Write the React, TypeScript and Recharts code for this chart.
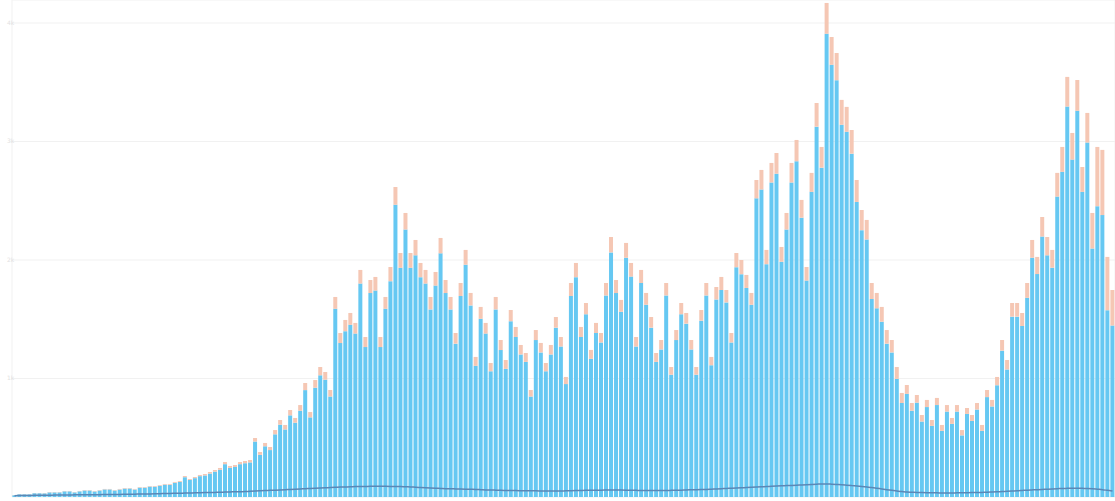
import React from "react";
import {
  ComposedChart,
  Bar,
  Line,
  XAxis,
  YAxis,
  CartesianGrid,
} from "recharts";

// daily totals (blue + salmon) left to right
const totals = [
  17, 25, 25, 25, 34, 34, 34, 42, 42, 42, 51, 51,
  42, 51, 59, 59, 51, 59, 68, 68, 59, 68, 76, 76,
  68, 84, 84, 93, 93, 101, 110, 110, 127, 135, 177, 152,
  169, 186, 194, 211, 228, 245, 295, 262, 270, 295, 304, 312,
  498, 380, 456, 422, 565, 650, 608, 734, 667, 776, 962, 717,
  987, 1097, 1055, 903, 1688, 1384, 1494, 1553, 1469, 1916, 1350, 1831,
  1857, 1350, 1688, 1941, 2616, 2059, 2397, 2059, 2169, 1975, 1916, 1688,
  1899, 2186, 1831, 1688, 1384, 1806, 2085, 1722, 1182, 1604, 1469, 1131,
  1688, 1325, 1156, 1578, 1435, 1283, 1215, 903, 1409, 1300, 1131, 1283,
  1519, 1350, 1013, 1806, 1975, 1435, 1637, 1241, 1469, 1384, 1806, 2194,
  1831, 1663, 2144, 1975, 1350, 1916, 1722, 1519, 1215, 1325, 1806, 1097,
  1409, 1637, 1553, 1325, 1097, 1578, 1806, 1182, 1772, 1857, 1747, 1384,
  2059, 2000, 1874, 1722, 2675, 2760, 2085, 2819, 2903, 2110, 2397, 2819,
  3013, 2507, 1941, 2735, 3325, 2954, 4169, 3882, 3747, 3351, 3292, 3097,
  2675, 2422, 2338, 1806, 1722, 1604, 1409, 1325, 1097, 878, 945, 793,
  861, 692, 819, 650, 836, 608, 776, 667, 776, 565, 751, 692,
  793, 608, 903, 819, 1013, 1325, 1156, 1637, 1637, 1553, 1806, 2169,
  2026, 2363, 2194, 2085, 2735, 2954, 3545, 3072, 3519, 2785, 3241, 2397,
  2954, 2929, 2026, 1747,
];

// salmon top part of each bar
const salmon = [
  2, 2, 2, 2, 2, 2, 3, 3, 3, 3, 3, 3,
  3, 3, 4, 4, 4, 4, 4, 4, 4, 5, 5, 5,
  5, 5, 5, 5, 6, 6, 6, 7, 7, 8, 10, 8,
  10, 10, 12, 13, 14, 15, 18, 16, 17, 18, 19, 20,
  30, 24, 28, 26, 36, 40, 38, 45, 40, 48, 60, 45,
  65, 70, 65, 55, 100, 85, 95, 100, 90, 115, 85, 110,
  115, 85, 100, 120, 150, 125, 140, 125, 130, 120, 115, 105,
  115, 130, 110, 105, 90, 110, 125, 105, 75, 100, 90, 70,
  105, 85, 75, 95, 85, 80, 75, 55, 85, 80, 70, 80,
  90, 80, 60, 110, 120, 85, 95, 75, 85, 80, 105, 130,
  110, 100, 125, 115, 80, 110, 100, 90, 75, 80, 105, 65,
  85, 95, 90, 80, 65, 90, 105, 70, 105, 110, 105, 80,
  120, 120, 110, 100, 155, 165, 120, 165, 175, 125, 140, 165,
  180, 150, 115, 160, 200, 175, 260, 235, 230, 210, 210, 200,
  185, 170, 165, 135, 130, 125, 115, 105, 100, 85, 75, 65,
  65, 55, 60, 50, 60, 50, 55, 50, 55, 45, 50, 50,
  55, 50, 60, 55, 70, 90, 80, 115, 115, 110, 125, 150,
  145, 165, 155, 150, 200, 210, 250, 225, 260, 210, 250, 300,
  500, 550, 450, 300,
];

// thin line along the bottom
const lineValues = [
  10, 12, 12, 13, 14, 14, 15, 15, 16, 16, 17, 17,
  18, 18, 19, 19, 20, 20, 21, 21, 22, 22, 23, 24,
  24, 25, 25, 26, 27, 28, 29, 30, 31, 32, 33, 34,
  35, 36, 37, 38, 39, 40, 42, 43, 44, 45, 46, 48,
  50, 52, 54, 56, 58, 60, 62, 64, 66, 68, 70, 72,
  74, 76, 78, 80, 82, 84, 85, 86, 88, 88, 89, 90,
  90, 91, 90, 89, 88, 88, 86, 85, 82, 80, 78, 76,
  74, 72, 70, 70, 68, 67, 66, 65, 64, 62, 60, 60,
  58, 56, 55, 54, 54, 53, 52, 52, 52, 51, 50, 50,
  50, 51, 52, 53, 54, 55, 56, 57, 58, 58, 59, 60,
  60, 59, 58, 57, 56, 55, 55, 54, 54, 54, 55, 56,
  57, 58, 60, 61, 62, 63, 64, 66, 68, 70, 72, 74,
  76, 78, 80, 82, 84, 86, 88, 90, 92, 94, 96, 98,
  100, 102, 104, 106, 108, 110, 110, 108, 106, 104, 100, 96,
  92, 88, 84, 80, 74, 68, 62, 56, 50, 46, 42, 40,
  38, 37, 36, 35, 35, 34, 34, 34, 35, 35, 36, 37,
  38, 39, 40, 42, 44, 46, 48, 50, 52, 55, 58, 60,
  62, 64, 66, 68, 70, 72, 73, 74, 74, 73, 72, 70,
  66, 62, 56, 50,
];

const yTicks = [0, 1000, 2000, 3000, 4000];
const xGridTicks = ["31", "96", "161"];

const data = totals.map((t, i) => ({
  day: String(i),
  blue: t - salmon[i],
  salmon: salmon[i],
  line: lineValues[i],
}));

function YTick(props: any) {
  const { y, payload } = props;
  if (payload.value === 0) return null;
  return (
    <text
      x={7}
      y={y}
      dy={2}
      textAnchor="start"
      fill="#e2e2e2"
      fontSize={6}
      fontFamily="DejaVu Sans"
    >
      {`${payload.value / 1000}k`}
    </text>
  );
}

export default function App() {
  return (
    <div style={{ position: "absolute", left: 0, top: 0, background: "#fff" }}>
      <ComposedChart
        width={1115}
        height={501}
        data={data}
        margin={{ top: 0, right: 0, bottom: 0, left: 0 }}
        barCategoryGap="8%"
      >
        <CartesianGrid stroke="#f1f1f1" />
        <XAxis
          dataKey="day"
          ticks={xGridTicks}
          interval={0}
          tick={false}
          tickLine={false}
          axisLine={false}
          height={4}
        />
        <YAxis
          domain={[0, 4194]}
          ticks={yTicks}
          allowDataOverflow
          width={12}
          tickLine={false}
          axisLine={false}
          tick={<YTick />}
        />
        <Bar dataKey="blue" stackId="a" fill="#66c8f2" isAnimationActive={false} />
        <Bar dataKey="salmon" stackId="a" fill="#f5c7b4" isAnimationActive={false} />
        <Line
          type="monotone"
          dataKey="line"
          stroke="#5b87b6"
          strokeWidth={1.5}
          dot={false}
          isAnimationActive={false}
        />
      </ComposedChart>
    </div>
  );
}
